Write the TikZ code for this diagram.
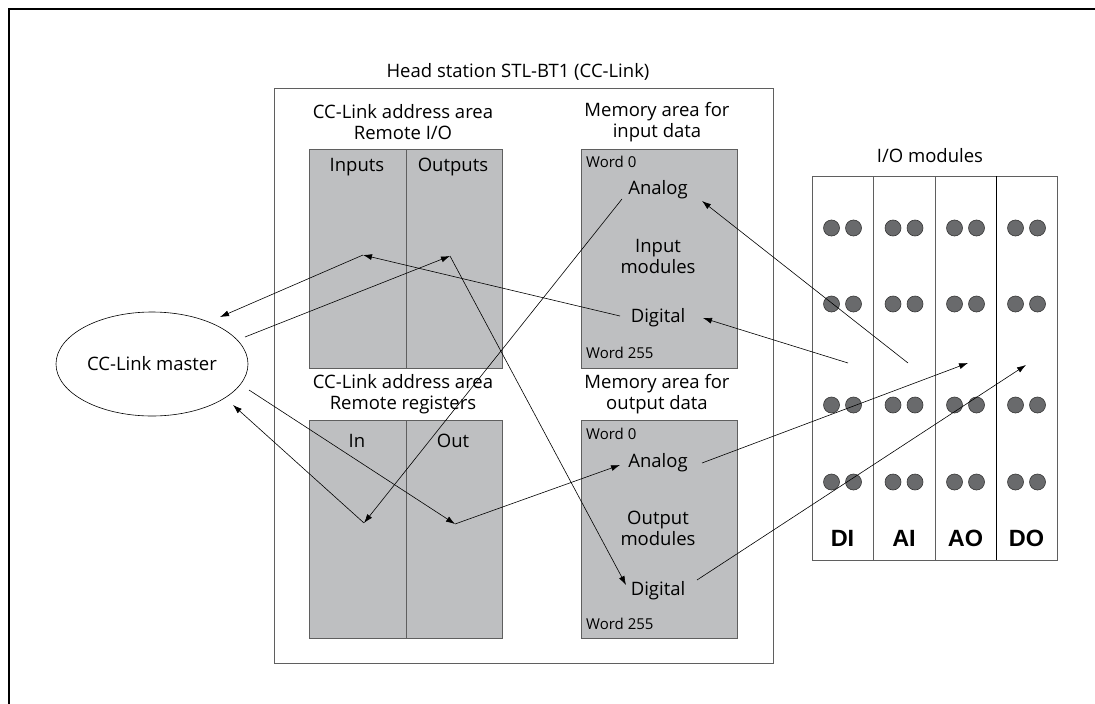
\documentclass[tikz,border=0pt]{standalone}
\usepackage{fontspec}
\setmainfont{Open Sans}
\newfontfamily\labfont{Liberation Sans}
\usetikzlibrary{arrows.meta,shapes.geometric}
\definecolor{boxgray}{RGB}{190,191,193}
\definecolor{linegray}{RGB}{95,95,95}
\definecolor{dotfill}{RGB}{105,106,108}
\definecolor{dotline}{RGB}{55,55,55}
\begin{document}
\begin{tikzpicture}[x=1pt,y=-1pt,
  lbl/.style={font=\fontsize{18.5}{21}\selectfont, align=center, inner sep=0pt},
  small/.style={font=\fontsize{15}{16}\selectfont, inner sep=0pt, anchor=west},
  area/.style={draw=linegray, fill=boxgray, line width=0.8pt},
  arr/.style={-{Latex[length=9pt,width=6pt]}, line width=0.6pt},
  dotc/.style={circle, draw=dotline, fill=dotfill, minimum size=16pt, inner sep=0pt, line width=0.6pt},
  modlab/.style={font=\labfont\bfseries\fontsize{23.5}{26}\selectfont, inner sep=0pt}]
\useasboundingbox (0,0) rectangle (1095,704);
\fill[white] (0,0) rectangle (1095,704);
% outer frame
\draw[line width=2pt] (9,704) -- (9,9) -- (1095,9);
% head station
\node[lbl] (title) at (518,72) {Head station STL-BT1 (CC-Link)};
\draw[draw=linegray, line width=0.8pt] (274,88) rectangle (773,663);
% remote I/O
\node[lbl] (t1) at (403,122.5) {CC-Link address area\\Remote I/O};
\draw[area] (309,149) rectangle (502,368);
\draw[draw=linegray, line width=0.8pt] (406,149) -- (406,368);
\node[lbl] (inputs) at (357,167) {Inputs};
\node[lbl] (outputs) at (453,167) {Outputs};
% memory input
\node[lbl] (t2) at (657,122.5) {Memory area for\\input data};
\draw[area] (581,149) rectangle (737,368);
\node[small] (w0a) at (586,162) {Word 0};
\node[small] (w255a) at (586,353) {Word 255};
\node[lbl] (anaI) at (658,190) {Analog};
\node[lbl] (inmod) at (658,256) {Input\\modules};
\node[lbl] (digI) at (658,318) {Digital};
% remote registers
\node[lbl] (t3) at (403,394.5) {CC-Link address area\\Remote registers};
\draw[area] (309,420) rectangle (502,638);
\draw[draw=linegray, line width=0.8pt] (406,420) -- (406,638);
\node[lbl] (inl) at (357,441) {In};
\node[lbl] (outl) at (453,441) {Out};
% memory output
\node[lbl] (t4) at (657,394.5) {Memory area for\\output data};
\draw[area] (581,420) rectangle (737,638);
\node[small] (w0b) at (586,434) {Word 0};
\node[small] (w255b) at (586,624) {Word 255};
\node[lbl] (anaO) at (658,463) {Analog};
\node[lbl] (outmod) at (658,528) {Output\\modules};
\node[lbl] (digO) at (658,591) {Digital};
% master
\node[ellipse, draw, line width=0.6pt, minimum width=192pt, minimum height=104pt, lbl] (master) at (152,364) {CC-Link master};
% I/O modules
\node[lbl] (iot) at (930,156) {I/O modules};
\draw[draw=linegray, line width=0.8pt] (812,176) rectangle (1057,560);
\draw[draw=linegray, line width=0.8pt] (873,176) -- (873,560) (935,176) -- (935,560);
\draw[line width=0.8pt] (996,176) -- (996,560);
\foreach \cx/\nm in {842.5/a,904/b,965.5/c,1026.5/d}{
  \foreach \cy/\r in {228/1,304/2,405/3,482/4}{
    \node[dotc] (d\nm\r l) at (\cx-11,\cy) {};
    \node[dotc] (d\nm\r r) at (\cx+11,\cy) {};
  }
}
\node[modlab] (DI) at (842.5,538) {DI};
\node[modlab] (AI) at (904,538) {AI};
\node[modlab] (AO) at (965.5,538) {AO};
\node[modlab] (DO) at (1026.5,538) {DO};
% connector points
\coordinate (pIn) at (363,255);
\coordinate (pOut) at (450,256);
\coordinate (pRin) at (364,523);
\coordinate (pRout) at (455,524);
\coordinate (mA) at (220,317);
\coordinate (mB) at (245,337);
\coordinate (mC) at (249,390);
\coordinate (mD) at (233,405);
\coordinate (aIL) at (622,199);
\coordinate (aIR) at (702,201);
\coordinate (dIL) at (620,316);
\coordinate (dIR) at (703,318);
\coordinate (aOL) at (620,465);
\coordinate (aOR) at (702,463);
\coordinate (dOL) at (626,585);
\coordinate (dOR) at (697,580);
\coordinate (pDI) at (848,363);
\coordinate (pAI) at (908,363);
\coordinate (pAO) at (968,363);
\coordinate (pDO) at (1026,365);
% connectors
\draw[arr] (dIL) -- (pIn);
\draw[arr] (pIn) -- (mA);
\draw[arr] (mB) -- (pOut);
\draw[arr] (pOut) -- (dOL);
\draw[arr] (aIL) -- (pRin);
\draw[arr] (mC) -- (pRout);
\draw[arr] (pRout) -- (aOL);
\draw[arr] (pRin) -- (mD);
\draw[arr] (pDI) -- (dIR);
\draw[arr] (pAI) -- (aIR);
\draw[arr] (aOR) -- (pAO);
\draw[arr] (dOR) -- (pDO);
\end{tikzpicture}
\end{document}
